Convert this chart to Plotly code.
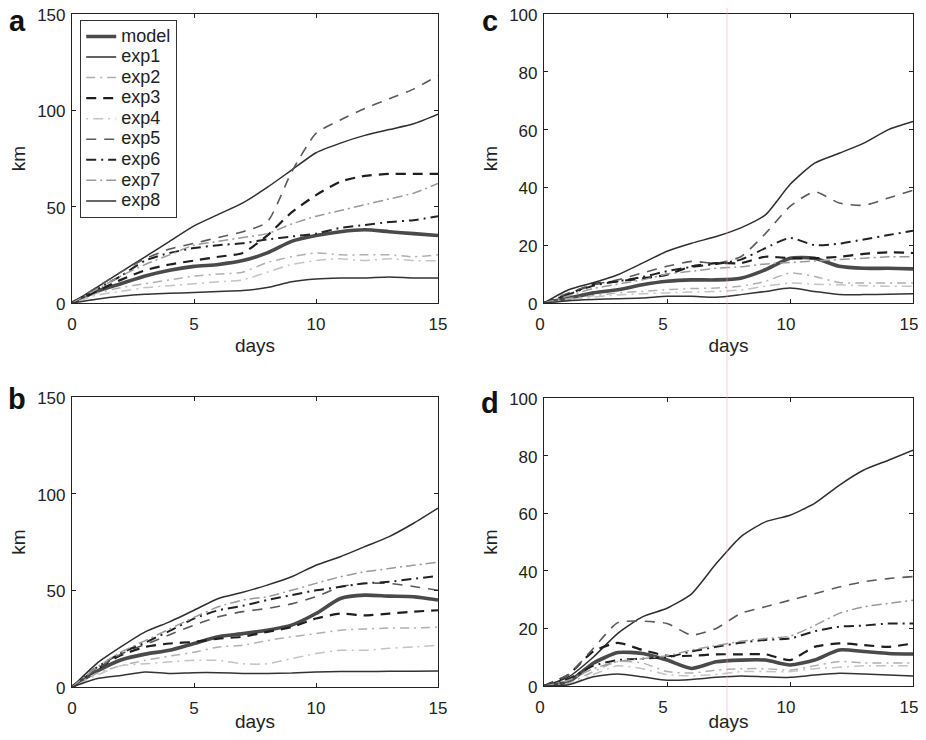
import plotly.graph_objects as go

# ---------------- data ----------------
days = list(range(16))
series_names = ["model", "exp1", "exp2", "exp3", "exp4", "exp5", "exp6", "exp7", "exp8"]
panel_letters = ["a", "b", "c", "d"]
x_ticks = [0, 5, 10, 15]
y_ticks_ab = [0, 50, 100, 150]
y_ticks_cd = [0, 20, 40, 60, 80, 100]

# panel a
a_model = [0, 6, 10, 14, 17, 19, 20, 22, 26, 32, 35, 37, 38, 37, 36, 35]
a_exp1 = [0, 8, 16, 24, 32, 40, 46, 52, 60, 69, 78, 83, 87, 90, 93, 98]
a_exp2 = [0, 5, 8, 10, 12, 14, 15, 16, 21, 24, 26, 25, 25, 25, 24, 25]
a_exp3 = [0, 6, 12, 17, 20, 22, 24, 26, 35, 47, 56, 63, 66, 67, 67, 67]
a_exp4 = [0, 4, 6, 8, 9, 10, 11, 12, 16, 20, 22, 23, 22, 23, 22, 22]
a_exp5 = [0, 8, 16, 23, 28, 31, 34, 37, 42, 68, 88, 95, 101, 106, 111, 118]
a_exp6 = [0, 7, 14, 22, 26, 28.5, 30, 31, 33, 34.5, 36, 39, 40.5, 42, 43, 45]
a_exp7 = [0, 7, 14, 20, 25, 30, 32, 34, 36, 41, 45, 48, 51, 54, 57, 62]
a_exp8 = [0, 2, 3.5, 4.5, 5, 5.5, 6, 6.5, 8, 11, 12.5, 13, 13, 13.5, 13, 13]

# panel b
b_model = [0, 8, 14, 17, 19, 22.5, 26, 27.6, 29.4, 32, 38, 45.8, 47.5, 47, 46.7, 45]
b_exp1 = [0, 12, 20.7, 28.5, 33.7, 39.7, 45.8, 49, 52.7, 57, 63, 67.4, 72.6, 77.8, 84.7, 92.5]
b_exp2 = [0, 7, 11, 13.8, 16, 18, 20.7, 21.6, 24, 26, 27.6, 29.4, 30, 30.5, 30.5, 31]
b_exp3 = [0, 9, 16.4, 20.7, 22.5, 23.3, 25, 26, 28.5, 31, 35.4, 38, 37, 38, 39, 39.7]
b_exp4 = [0, 6, 11, 12, 13, 13.8, 13.8, 12, 12, 14.7, 17.3, 19, 19, 20, 20.7, 21.6]
b_exp5 = [0, 9, 17, 22, 27, 32, 36.3, 39, 40.6, 43, 46.7, 51.8, 53.6, 53.6, 52, 50]
b_exp6 = [0, 10, 17.5, 23, 29, 35.4, 39.7, 42, 45, 47.5, 50, 51.8, 53.6, 54.4, 56, 57.4]
b_exp7 = [0, 10, 18, 24, 30, 36, 41.5, 45, 46.7, 50, 53.6, 57, 59.6, 61.3, 63, 64.5]
b_exp8 = [0, 4.3, 6, 7.8, 7, 7.4, 7.4, 7, 7, 7.2, 7.8, 8, 8, 8.1, 8.2, 8.3]

# panel c
c_model = [0, 1.7, 3.5, 4.6, 6.3, 7.5, 8, 8, 8.6, 11.5, 15.5, 15.5, 12.7, 12, 12, 11.8]
c_exp1 = [0, 4.6, 7, 9.8, 13.8, 17.9, 20.7, 23, 26, 30.5, 41, 48.4, 51.8, 55.3, 60, 62.8]
c_exp2 = [0, 1.5, 2.5, 3.5, 4, 4.6, 5, 5.2, 5.8, 7.5, 10.4, 9.2, 7.1, 6.9, 6.9, 6.9]
c_exp3 = [0, 3, 6.5, 7.5, 8.5, 9.8, 12.7, 13.8, 13.8, 16, 15.5, 15.5, 16, 17, 17.5, 17.3]
c_exp4 = [0, 1, 2, 2.8, 3.2, 3.5, 3.8, 4, 4.5, 5.8, 6.9, 6.5, 6.3, 6, 5.8, 5.8]
c_exp5 = [0, 3.5, 6.3, 8, 10.4, 12.7, 14.4, 13.8, 16, 24, 33.4, 38.5, 34.6, 33.8, 36.3, 39]
c_exp6 = [0, 3, 6, 7.5, 9, 11, 12.5, 13.5, 15, 19, 22.5, 20, 20.5, 22, 23.5, 25]
c_exp7 = [0, 2.5, 5, 6.5, 8, 10, 11, 12, 12.5, 13.5, 14, 14.5, 15, 15.5, 16, 16]
c_exp8 = [0, 0.8, 1.2, 1.5, 1.7, 2.3, 2.3, 2, 2.9, 4, 5.2, 4, 2.9, 2.9, 3, 3.2]

# panel d
d_model = [0, 1.5, 7.9, 11.6, 11.3, 9, 6.1, 8.4, 9, 9, 7.3, 9, 12.5, 12, 11.3, 11.1]
d_exp1 = [0, 3.2, 10, 18.3, 24, 27, 32, 42.5, 51.8, 57, 59.3, 63.4, 69.7, 75, 78.4, 81.9]
d_exp2 = [0, 1, 5, 8.5, 8, 5, 4.5, 5.5, 6, 6, 5.5, 7, 8.5, 8, 8, 8]
d_exp3 = [0, 4, 12, 15, 12.5, 10.5, 10.5, 11, 11, 11, 9, 13.6, 14.8, 14.2, 13.6, 14.8]
d_exp4 = [0, 0.5, 4, 7, 6, 4, 3.5, 4, 5, 5, 5, 6, 6.5, 7, 7, 7]
d_exp5 = [0, 4, 13, 22, 22.5, 21.7, 17.7, 20, 25.2, 27.5, 29.8, 32, 34.4, 36.2, 37.3, 38]
d_exp6 = [0, 2.5, 7, 9, 9.5, 10, 12, 13.6, 15, 16, 16.5, 19, 20.6, 21, 21.7, 21.7]
d_exp7 = [0, 2, 6, 8.5, 9.5, 10.5, 12.5, 14, 15.5, 16.5, 17.3, 21, 25.2, 27.5, 28.7, 29.8]
d_exp8 = [0, 0.4, 3.2, 4.2, 3.2, 2, 2.3, 3, 3.5, 3.2, 3, 3.8, 4.4, 4.2, 3.8, 3.5]

panel_data = {
    "a": [a_model, a_exp1, a_exp2, a_exp3, a_exp4, a_exp5, a_exp6, a_exp7, a_exp8],
    "b": [b_model, b_exp1, b_exp2, b_exp3, b_exp4, b_exp5, b_exp6, b_exp7, b_exp8],
    "c": [c_model, c_exp1, c_exp2, c_exp3, c_exp4, c_exp5, c_exp6, c_exp7, c_exp8],
    "d": [d_model, d_exp1, d_exp2, d_exp3, d_exp4, d_exp5, d_exp6, d_exp7, d_exp8],
}

# ---------------- styles ----------------
styles = {
    "model": dict(color="#4a4a4a", width=3.6, dash="solid"),
    "exp1": dict(color="#2e2e2e", width=1.5, dash="solid"),
    "exp2": dict(color="#b0b0b0", width=1.5, dash="9px,5px,2px,5px"),
    "exp3": dict(color="#1e1e1e", width=2.2, dash="10px,7px"),
    "exp4": dict(color="#c4c4c4", width=1.5, dash="2px,5px,10px,5px"),
    "exp5": dict(color="#5a5a5a", width=1.6, dash="10px,8px"),
    "exp6": dict(color="#222222", width=2.0, dash="10px,5px,2px,5px"),
    "exp7": dict(color="#9a9a9a", width=1.5, dash="10px,4px,2px,4px"),
    "exp8": dict(color="#333333", width=1.5, dash="solid"),
}

# The page body keeps its default 8px margin, so the figure is 16px smaller
# than the window and every reference pixel position is shifted by OFF.
OFF = 8
W, H = 926 - 2 * OFF, 740 - 2 * OFF


def px_x(x):
    return (x - OFF) / W


def px_y(y):
    return 1 - (y - OFF) / H


# panel boxes in reference-window pixels: left, right, top, bottom
boxes = {
    "a": (72, 438, 14, 303),
    "b": (72, 438, 397, 687),
    "c": (544, 913, 14, 303),
    "d": (544, 913, 398, 686),
}
axis_ids = {"a": ("x", "y"), "b": ("x2", "y2"), "c": ("x3", "y3"), "d": ("x4", "y4")}

font_family = "Liberation Sans, Arial, Helvetica, sans-serif"
fig = go.Figure()

for p in panel_letters:
    xa, ya = axis_ids[p]
    for name, vals in zip(series_names, panel_data[p]):
        st = styles[name]
        fig.add_trace(go.Scatter(
            x=days, y=vals, mode="lines",
            name="<span style='font-size:18px'>%s</span>" % name,
            xaxis=xa, yaxis=ya,
            line=dict(color=st["color"], width=st["width"], dash=st["dash"],
                      shape="spline", smoothing=0.6),
            showlegend=(p == "a"),
            hoverinfo="skip",
        ))

layout_axes = {}
for i, p in enumerate(panel_letters):
    l, r, t, b = boxes[p]
    sfx = "" if i == 0 else str(i + 1)
    yt = y_ticks_ab if p in ("a", "b") else y_ticks_cd
    common = dict(
        showline=True, linecolor="#222", linewidth=1.2, mirror="ticks",
        ticks="inside", ticklen=4, tickcolor="#222", tickwidth=1,
        showgrid=False, zeroline=False, automargin=False,
        ticklabeloverflow="allow",
        tickfont=dict(family=font_family, size=17, color="#222"),
        title_font=dict(family=font_family, size=19, color="#222"),
    )
    layout_axes["xaxis" + sfx] = dict(
        common, domain=[px_x(l), px_x(r)], range=[0, 15], tickvals=x_ticks,
        anchor="y" + sfx, title=dict(text="days", standoff=6),
        ticklabelstandoff=5,
        ticklabelshift=(-4 if p in ("c", "d") else 0),
    )
    layout_axes["yaxis" + sfx] = dict(
        common, domain=[px_y(b), px_y(t)], range=[0, yt[-1]], tickvals=yt,
        anchor="x" + sfx, title=dict(text="km", standoff=6),
        ticklabelstandoff=2, ticklabelshift=1,
    )

letter_pos = {"a": (17, 21), "b": (17, 399), "c": (490, 21), "d": (490, 403)}
annotations = []
for p in panel_letters:
    x, y = letter_pos[p]
    annotations.append(dict(
        text="<b>%s</b>" % p, x=px_x(x), y=px_y(y), xref="paper", yref="paper",
        xanchor="center", yanchor="middle", showarrow=False,
        font=dict(family=font_family, size=29, color="#111"),
    ))

fig.update_layout(
    template="none",
    width=W, height=H, autosize=False,
    margin=dict(l=0, r=0, t=0, b=0, autoexpand=False),
    paper_bgcolor="white", plot_bgcolor="white",
    showlegend=True,
    legend=dict(
        x=px_x(80), y=px_y(20), xanchor="left", yanchor="top",
        bgcolor="white", bordercolor="#333", borderwidth=1.2,
        font=dict(family=font_family, size=13.5, color="#222"),
        itemwidth=30, tracegroupgap=0,
    ),
    annotations=annotations,
    shapes=[dict(type="line", xref="paper", yref="paper", x0=px_x(727), x1=px_x(727),
                 y0=0, y1=1, line=dict(color="rgba(240,150,200,0.35)", width=1.5),
                 layer="above")],
    **layout_axes,
)

fig.write_html("out.html", config={"displayModeBar": False})
